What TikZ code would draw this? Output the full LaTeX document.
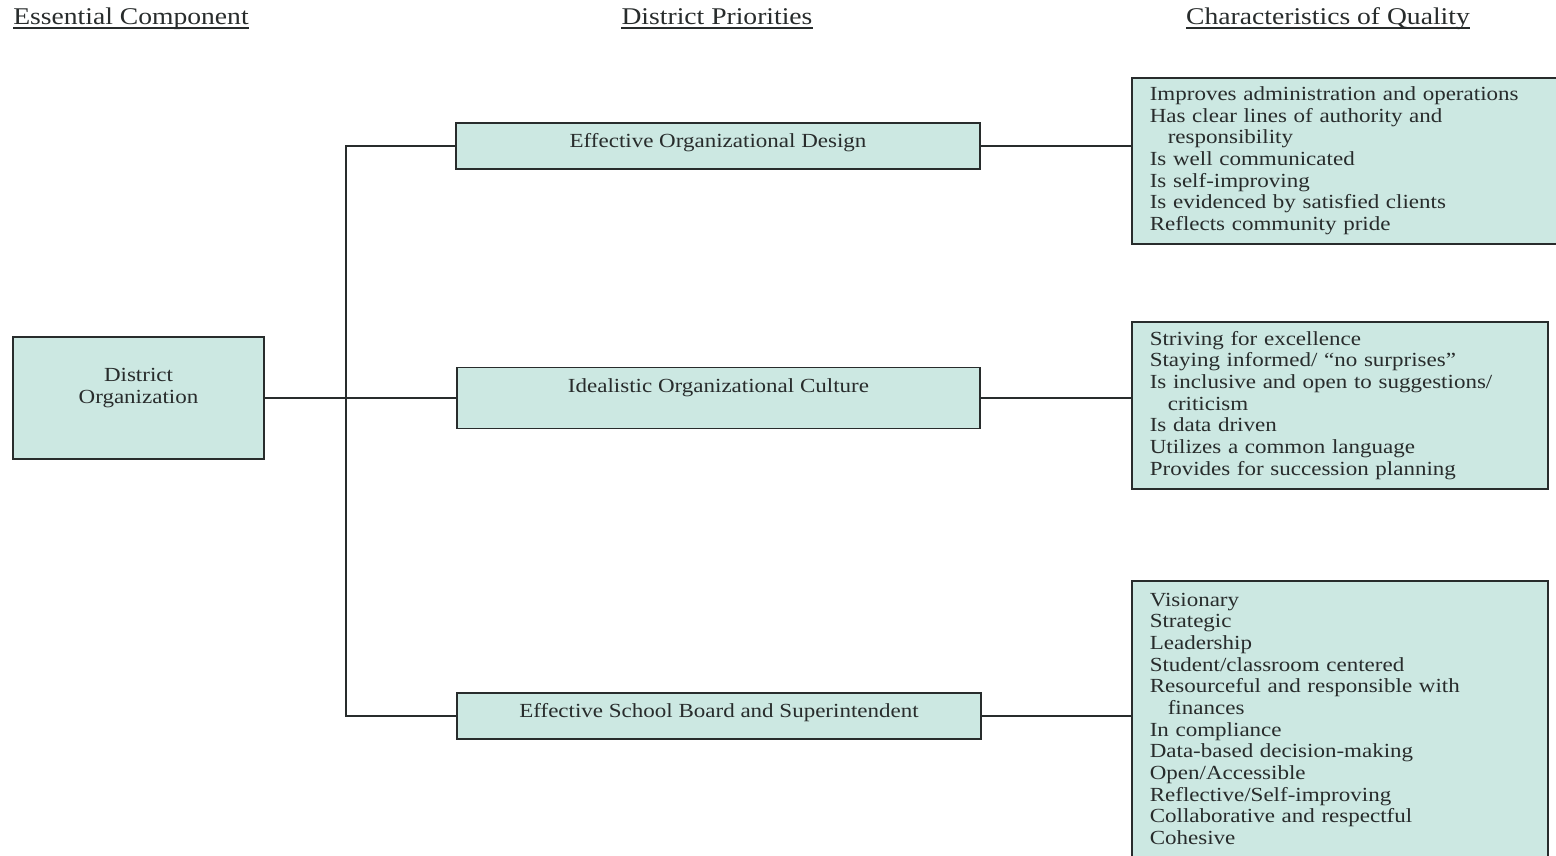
\documentclass[tikz,border=0pt]{standalone}
\usepackage{fontspec}
\setmainfont{Liberation Serif}[FakeStretch=1.15]
\definecolor{boxfill}{RGB}{204,232,226}
\definecolor{ink}{RGB}{40,44,44}
\begin{document}
\begin{tikzpicture}[x=1pt,y=-1pt,
  every node/.style={text=ink},
  hdr/.style={font=\fontsize{24}{28}\selectfont, inner sep=0pt, anchor=base},
  uline/.style={draw=ink, line width=1.3pt},
  box/.style={draw=ink, line width=1.6pt, fill=boxfill, inner sep=0pt},
  body/.style={font=\fontsize{20}{21.67}\selectfont},
  qbox/.style={box, body, align=left, inner xsep=18pt, anchor=north west},
  conn/.style={draw=ink, line width=1.6pt}]
\useasboundingbox (0,0) rectangle (1556,856);
\fill[white] (0,0) rectangle (1556,856);
% headers
\node[hdr] (h1) at (131,25) {Essential Component};
\node[hdr] (h2) at (717,25) {District Priorities};
\node[hdr] (h3) at (1328,25) {Characteristics of Quality};
\foreach \h in {h1,h2,h3}
  \draw[uline] ([yshift=-3pt]\h.base west) -- ([yshift=-3pt]\h.base east);
% essential component
\node[box, minimum width=251, minimum height=122] (do) at (138.5,398) {};
\node[body, align=center] (dot) at (138.5,388) {District\\Organization};
% priorities
\node[box, minimum width=524, minimum height=46] (p1) at (718,146) {};
\node[body] (p1t) at (718,143) {Effective Organizational Design};
\node[box, minimum width=523, minimum height=61] (p2) at (718.5,398) {};
\node[body] (p2t) at (718.5,388) {Idealistic Organizational Culture};
\node[box, minimum width=524, minimum height=46] (p3) at (719,716) {};
\node[body] (p3t) at (719,713) {Effective School Board and Superintendent};
% characteristics
\node[qbox, minimum width=425, minimum height=166, text width=389] (q1) at (1131,77) {%
Improves administration and operations\\
Has clear lines of authority and\\
\hspace*{18pt}responsibility\\
Is well communicated\\
Is self-improving\\
Is evidenced by satisfied clients\\
Reflects community pride};
\node[qbox, minimum width=416, minimum height=167, text width=380] (q2) at (1131,321) {%
Striving for excellence\\
Staying informed/ ``no surprises''\\
Is inclusive and open to suggestions/\\
\hspace*{18pt}criticism\\
Is data driven\\
Utilizes a common language\\
Provides for succession planning};
\node[qbox, minimum width=416, minimum height=276, text width=380] (q3) at (1131,580) {%
Visionary\\
Strategic\\
Leadership\\
Student/classroom centered\\
Resourceful and responsible with\\
\hspace*{18pt}finances\\
In compliance\\
Data-based decision-making\\
Open/Accessible\\
Reflective/Self-improving\\
Collaborative and respectful\\
Cohesive};
% connectors
\coordinate (s1) at (346,146);
\coordinate (s3) at (346,716);
\draw[conn] (p1.west) -- (s1) -- (s3) -- (p3.west);
\draw[conn] (do.east) -- (p2.west);
\draw[conn] (p1.east) -- (p1.east -| q1.west);
\draw[conn] (p2.east) -- (p2.east -| q2.west);
\draw[conn] (p3.east) -- (p3.east -| q3.west);
\end{tikzpicture}
\end{document}
